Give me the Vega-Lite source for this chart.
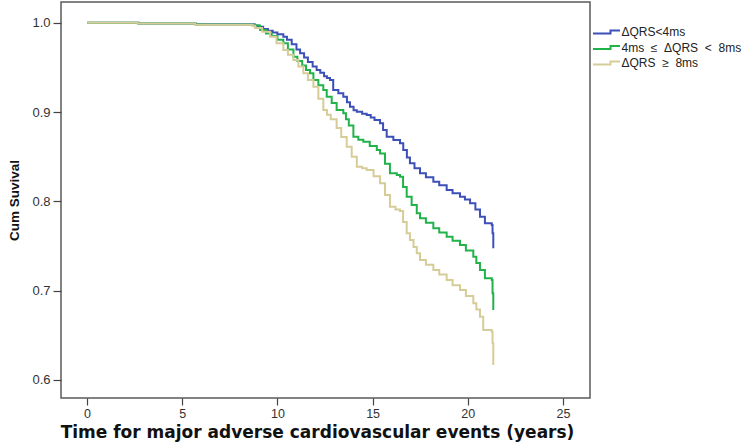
{
  "$schema": "https://vega.github.io/schema/vega-lite/v6.json",
  "width": 529,
  "height": 396,
  "autosize": {"type": "none"},
  "padding": {"left": 61, "top": 2, "right": 159, "bottom": 49},
  "background": "white",
  "config": {
    "font": "Liberation Sans",
    "view": {"stroke": "#5a5a5a", "strokeWidth": 1.5}
  },
  "datasets": {
    "km": [
      {"t": 0, "s": 1.0, "g": "A"}, {"t": 2.7, "s": 0.9992, "g": "A"}, {"t": 5.7, "s": 0.9982, "g": "A"}, {"t": 8.8, "s": 0.997, "g": "A"},
      {"t": 9.0, "s": 0.9955, "g": "A"}, {"t": 9.25, "s": 0.993, "g": "A"}, {"t": 9.5, "s": 0.991, "g": "A"}, {"t": 9.75, "s": 0.989, "g": "A"},
      {"t": 10.0, "s": 0.987, "g": "A"}, {"t": 10.31, "s": 0.9843, "g": "A"}, {"t": 10.5, "s": 0.981, "g": "A"}, {"t": 10.75, "s": 0.976, "g": "A"},
      {"t": 11.0, "s": 0.970, "g": "A"}, {"t": 11.19, "s": 0.9657, "g": "A"}, {"t": 11.4, "s": 0.961, "g": "A"}, {"t": 11.6, "s": 0.956, "g": "A"},
      {"t": 11.85, "s": 0.951, "g": "A"}, {"t": 12.06, "s": 0.947, "g": "A"}, {"t": 12.25, "s": 0.944, "g": "A"}, {"t": 12.45, "s": 0.940, "g": "A"},
      {"t": 12.6, "s": 0.938, "g": "A"}, {"t": 12.76, "s": 0.9358, "g": "A"}, {"t": 12.93, "s": 0.9246, "g": "A"}, {"t": 13.2, "s": 0.921, "g": "A"},
      {"t": 13.46, "s": 0.9171, "g": "A"}, {"t": 13.65, "s": 0.911, "g": "A"}, {"t": 13.81, "s": 0.906, "g": "A"}, {"t": 14.0, "s": 0.902, "g": "A"},
      {"t": 14.17, "s": 0.9003, "g": "A"}, {"t": 14.45, "s": 0.898, "g": "A"}, {"t": 14.69, "s": 0.8966, "g": "A"}, {"t": 14.9, "s": 0.894, "g": "A"},
      {"t": 15.1, "s": 0.891, "g": "A"}, {"t": 15.39, "s": 0.8873, "g": "A"}, {"t": 15.55, "s": 0.880, "g": "A"}, {"t": 15.74, "s": 0.8723, "g": "A"},
      {"t": 16.09, "s": 0.8686, "g": "A"}, {"t": 16.44, "s": 0.865, "g": "A"}, {"t": 16.61, "s": 0.8575, "g": "A"}, {"t": 16.8, "s": 0.849, "g": "A"},
      {"t": 16.96, "s": 0.8426, "g": "A"}, {"t": 17.2, "s": 0.837, "g": "A"}, {"t": 17.49, "s": 0.8314, "g": "A"}, {"t": 17.8, "s": 0.827, "g": "A"},
      {"t": 18.19, "s": 0.822, "g": "A"}, {"t": 18.5, "s": 0.818, "g": "A"}, {"t": 18.89, "s": 0.8127, "g": "A"}, {"t": 19.2, "s": 0.809, "g": "A"},
      {"t": 19.59, "s": 0.8052, "g": "A"}, {"t": 19.85, "s": 0.802, "g": "A"}, {"t": 20.12, "s": 0.7978, "g": "A"}, {"t": 20.4, "s": 0.791, "g": "A"},
      {"t": 20.64, "s": 0.7828, "g": "A"}, {"t": 20.9, "s": 0.7754, "g": "A"}, {"t": 21.26, "s": 0.7735, "g": "A"}, {"t": 21.3, "s": 0.7642, "g": "A"},
      {"t": 21.34, "s": 0.7474, "g": "A"},

      {"t": 0, "s": 1.0, "g": "B"}, {"t": 2.7, "s": 0.9992, "g": "B"}, {"t": 5.7, "s": 0.998, "g": "B"}, {"t": 8.7, "s": 0.9968, "g": "B"},
      {"t": 9.09, "s": 0.9918, "g": "B"}, {"t": 9.4, "s": 0.988, "g": "B"}, {"t": 9.7, "s": 0.985, "g": "B"}, {"t": 10.0, "s": 0.981, "g": "B"},
      {"t": 10.31, "s": 0.9769, "g": "B"}, {"t": 10.55, "s": 0.970, "g": "B"}, {"t": 10.84, "s": 0.9619, "g": "B"}, {"t": 11.05, "s": 0.957, "g": "B"},
      {"t": 11.3, "s": 0.952, "g": "B"}, {"t": 11.5, "s": 0.947, "g": "B"}, {"t": 11.71, "s": 0.9433, "g": "B"}, {"t": 11.89, "s": 0.9358, "g": "B"},
      {"t": 12.15, "s": 0.930, "g": "B"}, {"t": 12.41, "s": 0.9246, "g": "B"}, {"t": 12.59, "s": 0.9171, "g": "B"}, {"t": 12.85, "s": 0.910, "g": "B"},
      {"t": 13.11, "s": 0.9022, "g": "B"}, {"t": 13.46, "s": 0.8985, "g": "B"}, {"t": 13.6, "s": 0.892, "g": "B"}, {"t": 13.75, "s": 0.885, "g": "B"},
      {"t": 13.99, "s": 0.8723, "g": "B"}, {"t": 14.25, "s": 0.869, "g": "B"}, {"t": 14.51, "s": 0.8667, "g": "B"}, {"t": 14.85, "s": 0.862, "g": "B"},
      {"t": 15.22, "s": 0.8574, "g": "B"}, {"t": 15.39, "s": 0.8537, "g": "B"}, {"t": 15.65, "s": 0.842, "g": "B"}, {"t": 15.91, "s": 0.8314, "g": "B"},
      {"t": 16.27, "s": 0.8295, "g": "B"}, {"t": 16.44, "s": 0.8275, "g": "B"}, {"t": 16.6, "s": 0.816, "g": "B"}, {"t": 16.79, "s": 0.8052, "g": "B"},
      {"t": 17.05, "s": 0.796, "g": "B"}, {"t": 17.32, "s": 0.7866, "g": "B"}, {"t": 17.49, "s": 0.781, "g": "B"}, {"t": 17.8, "s": 0.776, "g": "B"},
      {"t": 18.19, "s": 0.7698, "g": "B"}, {"t": 18.5, "s": 0.765, "g": "B"}, {"t": 18.89, "s": 0.7604, "g": "B"}, {"t": 19.2, "s": 0.756, "g": "B"},
      {"t": 19.59, "s": 0.7511, "g": "B"}, {"t": 19.9, "s": 0.745, "g": "B"}, {"t": 20.29, "s": 0.738, "g": "B"}, {"t": 20.45, "s": 0.731, "g": "B"},
      {"t": 20.64, "s": 0.7231, "g": "B"}, {"t": 20.9, "s": 0.7138, "g": "B"}, {"t": 21.26, "s": 0.7119, "g": "B"}, {"t": 21.3, "s": 0.697, "g": "B"},
      {"t": 21.34, "s": 0.6783, "g": "B"},

      {"t": 0, "s": 1.0, "g": "C"}, {"t": 2.66, "s": 0.999, "g": "C"}, {"t": 5.67, "s": 0.9978, "g": "C"}, {"t": 8.7, "s": 0.9965, "g": "C"},
      {"t": 8.82, "s": 0.994, "g": "C"}, {"t": 9.2, "s": 0.990, "g": "C"}, {"t": 9.61, "s": 0.9843, "g": "C"}, {"t": 9.95, "s": 0.977, "g": "C"},
      {"t": 10.31, "s": 0.9694, "g": "C"}, {"t": 10.55, "s": 0.964, "g": "C"}, {"t": 10.84, "s": 0.9582, "g": "C"}, {"t": 11.1, "s": 0.951, "g": "C"},
      {"t": 11.36, "s": 0.9433, "g": "C"}, {"t": 11.6, "s": 0.936, "g": "C"}, {"t": 11.89, "s": 0.9283, "g": "C"}, {"t": 12.15, "s": 0.915, "g": "C"},
      {"t": 12.41, "s": 0.9022, "g": "C"}, {"t": 12.6, "s": 0.897, "g": "C"}, {"t": 12.8, "s": 0.892, "g": "C"}, {"t": 13.11, "s": 0.882, "g": "C"},
      {"t": 13.35, "s": 0.872, "g": "C"}, {"t": 13.64, "s": 0.8611, "g": "C"}, {"t": 13.9, "s": 0.850, "g": "C"}, {"t": 14.17, "s": 0.8387, "g": "C"},
      {"t": 14.45, "s": 0.837, "g": "C"}, {"t": 14.69, "s": 0.8351, "g": "C"}, {"t": 15.05, "s": 0.828, "g": "C"}, {"t": 15.39, "s": 0.8202, "g": "C"},
      {"t": 15.65, "s": 0.807, "g": "C"}, {"t": 15.91, "s": 0.794, "g": "C"}, {"t": 16.2, "s": 0.791, "g": "C"}, {"t": 16.44, "s": 0.7891, "g": "C"},
      {"t": 16.6, "s": 0.777, "g": "C"}, {"t": 16.79, "s": 0.7642, "g": "C"}, {"t": 16.96, "s": 0.7567, "g": "C"}, {"t": 17.15, "s": 0.749, "g": "C"},
      {"t": 17.32, "s": 0.7418, "g": "C"}, {"t": 17.49, "s": 0.7343, "g": "C"}, {"t": 17.8, "s": 0.729, "g": "C"}, {"t": 18.19, "s": 0.7231, "g": "C"},
      {"t": 18.5, "s": 0.718, "g": "C"}, {"t": 18.89, "s": 0.7119, "g": "C"}, {"t": 19.2, "s": 0.706, "g": "C"}, {"t": 19.59, "s": 0.7007, "g": "C"},
      {"t": 19.9, "s": 0.694, "g": "C"}, {"t": 20.29, "s": 0.6858, "g": "C"}, {"t": 20.45, "s": 0.679, "g": "C"}, {"t": 20.64, "s": 0.6708, "g": "C"},
      {"t": 20.81, "s": 0.6559, "g": "C"}, {"t": 21.26, "s": 0.654, "g": "C"}, {"t": 21.3, "s": 0.641, "g": "C"}, {"t": 21.34, "s": 0.6167, "g": "C"}
    ]
  },
  "data": {"name": "km"},
  "mark": {"type": "line", "interpolate": "step-after", "strokeWidth": 2, "clip": true},
  "encoding": {
    "x": {
      "field": "t", "type": "quantitative",
      "scale": {"domain": [-1.37, 26.42], "nice": false, "zero": false},
      "axis": {
        "title": "Time for major adverse cardiovascular events (years)",
        "values": [0, 5, 10, 15, 20, 25], "format": "d",
        "grid": false, "domain": false,
        "tickSize": 7, "tickColor": "#444", "tickWidth": 1.2,
        "labelFontSize": 12.5, "labelColor": "#333", "labelPadding": 2,
        "titleFont": "DejaVu Sans", "titleFontSize": 17, "titleFontWeight": "bold", "titleColor": "#111",
        "titlePadding": 5, "titleX": 256
      }
    },
    "y": {
      "field": "s", "type": "quantitative",
      "scale": {"domain": [0.5798, 1.0232], "nice": false, "zero": false},
      "axis": {
        "title": "Cum Suvival",
        "values": [0.6, 0.7, 0.8, 0.9, 1.0], "format": ".1f",
        "grid": false, "domain": false,
        "tickSize": 8, "tickColor": "#444", "tickWidth": 1.2,
        "labelFontSize": 13, "labelColor": "#333", "labelPadding": 3,
        "titleFontSize": 13.5, "titleFontWeight": "bold", "titleColor": "#111",
        "titlePadding": 10
      }
    },
    "color": {
      "field": "g", "type": "nominal",
      "scale": {
        "domain": ["A", "B", "C"],
        "range": ["#3d50b8", "#22b24a", "#d6cc98"]
      },
      "legend": {
        "title": null,
        "orient": "none",
        "legendX": 539.5,
        "legendY": 24,
        "labelExpr": "datum.value == 'A' ? 'ΔQRS<4ms' : datum.value == 'B' ? '4ms\u00a0 ≤\u00a0 ΔQRS\u00a0 <\u00a0 8ms' : 'ΔQRS\u00a0 ≥\u00a0 8ms'",
        "symbolType": "M-2.7,0.3L0.8,0.3L0.8,-0.3L2.7,-0.3",
        "symbolSize": 100,
        "symbolStrokeWidth": 2,
        "symbolFillColor": "transparent",
        "labelFontSize": 12,
        "labelColor": "#222",
        "labelOffset": 9,
        "labelLimit": 200,
        "rowPadding": 3.5
      }
    }
  }
}
